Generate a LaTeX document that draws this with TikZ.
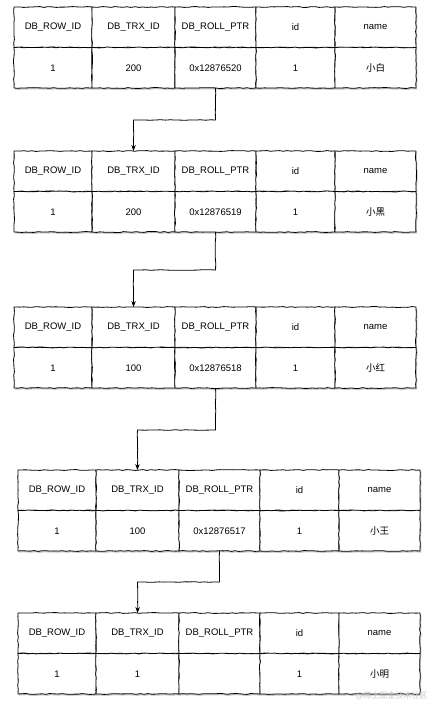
\documentclass[tikz,border=0pt]{standalone}
\usepackage{fontspec}
\setmainfont{Liberation Sans}
\newfontfamily\cjk{Noto Sans CJK SC}
\usetikzlibrary{arrows.meta,positioning,decorations.pathmorphing,shadows}
\tikzset{cell/.style={draw,fill=white,line width=.8pt,outer sep=0pt,inner sep=0pt,
    minimum height=40.5pt,font=\fontsize{9.5}{11}\selectfont,
    decorate,decoration={random steps,segment length=4pt,amplitude=.45pt},
    drop shadow={shadow xshift=1.2pt,shadow yshift=-1.6pt,fill=black!35,opacity=.6}},
  arrow/.style={-{Stealth[length=6pt,width=4.5pt]},line width=.8pt,
    decorate,decoration={random steps,segment length=5pt,amplitude=.3pt}}}

\begin{document}
\begin{tikzpicture}[x=1pt,y=-1pt]
  \pgfmathsetseed{12}
  \path[use as bounding box,fill=white] (0,0) rectangle (433,703);
  % one version of the row per table, newest on top
  \foreach \t/\x/\y/\trx/\ptr/\nm in {1/14/7/200/0x12876520/小白,2/14/151/200/0x12876519/小黑,
      3/14/307/100/0x12876518/小红,4/18/470/100/0x12876517/小王,5/18/613/1//小明}{
    \node[cell,minimum width=78pt,anchor=north west] (h\t-1) at (\x,\y) {DB\_ROW\_ID};
    \node[cell,minimum width=83pt,right=0pt of h\t-1] (h\t-2) {DB\_TRX\_ID};
    \node[cell,minimum width=81pt,right=0pt of h\t-2] (h\t-3) {DB\_ROLL\_PTR};
    \node[cell,minimum width=79pt,right=0pt of h\t-3] (h\t-4) {id};
    \node[cell,minimum width=81pt,right=0pt of h\t-4] (h\t-5) {name};
    \node[cell,minimum width=78pt,below=0pt of h\t-1] (v\t-1) {1};
    \node[cell,minimum width=83pt,below=0pt of h\t-2] (v\t-2) {\trx};
    \node[cell,minimum width=81pt,below=0pt of h\t-3] (v\t-3) {\ptr};
    \node[cell,minimum width=79pt,below=0pt of h\t-4] (v\t-4) {1};
    \node[cell,minimum width=81pt,below=0pt of h\t-5] (v\t-5) {\cjk\nm};
  }
  % roll pointers
  \foreach \a/\b/\d in {1/2/32,2/3/38,3/4/42,4/5/31}
    \draw[arrow] (v\a-3.south) -- ++(0,\d) -| (h\b-2.north);
  \node[anchor=east,text=black!22,font=\cjk\fontsize{8}{9}\selectfont] (wm) at (431,696) {@稀土掘金技术社区};
\end{tikzpicture}
\end{document}
